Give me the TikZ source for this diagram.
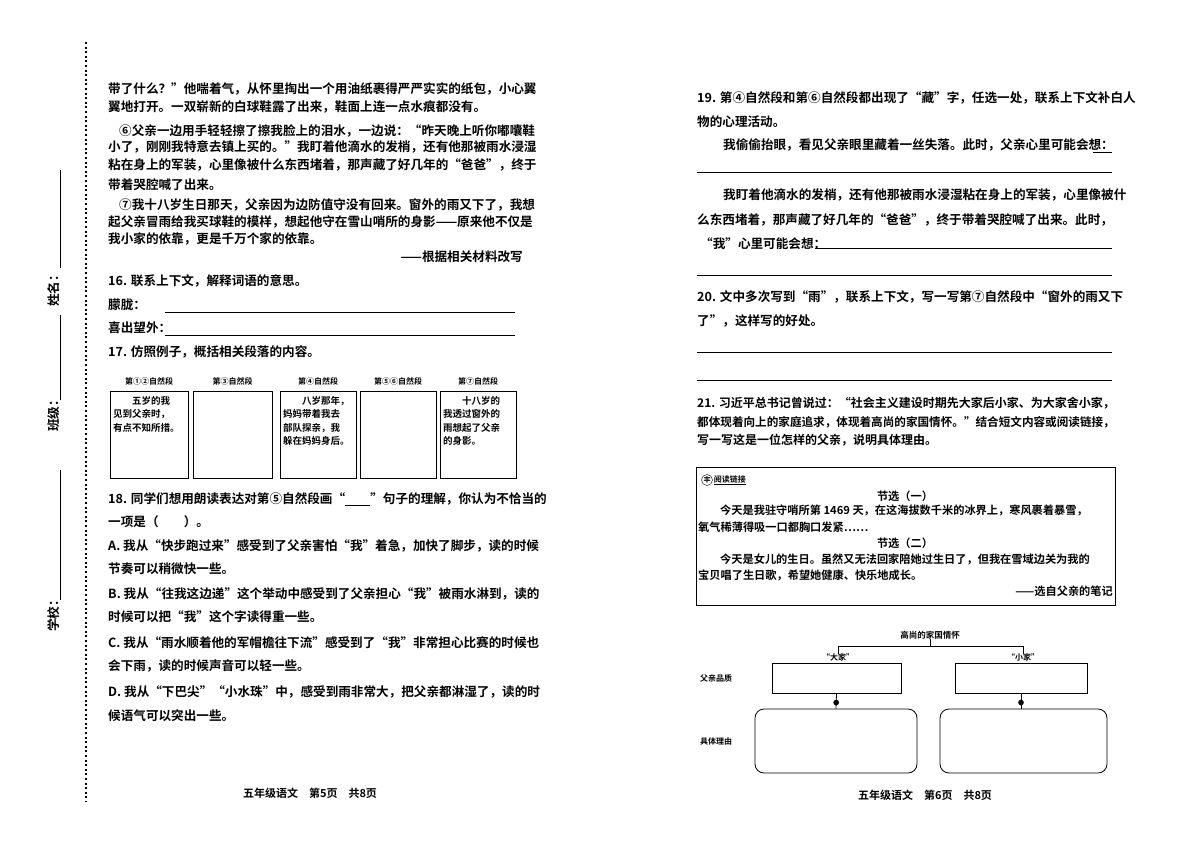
\documentclass[tikz,border=0pt]{standalone}
\usepackage{fontspec}
\usetikzlibrary{positioning,calc}
\newfontfamily\cjk{Noto Sans CJK SC}[BoldFont={Noto Sans CJK SC Bold}]
\tikzset{
  txt/.style={anchor=west,inner sep=0pt,font=\cjk\bfseries\fontsize{12.6}{15}\selectfont},
  small_txt/.style={anchor=west,inner sep=0pt,font=\cjk\bfseries\fontsize{8}{10}\selectfont},
  note_txt/.style={anchor=west,inner sep=0pt,font=\cjk\bfseries\fontsize{11.2}{13}\selectfont},
  box_txt/.style={anchor=north west,inner sep=0pt,align=left,font=\cjk\bfseries\fontsize{9.5}{13.5}\selectfont},
  ans_line/.style={thick},
}
\begin{document}
\begin{tikzpicture}[
  x=1pt, y=-1pt,
  para box/.style={draw,thick},
  frame/.style={draw,thick,rounded corners=9pt},
  ]
  \useasboundingbox[fill=white] (0,0) rectangle (1200,849);

  % binding margin
  \draw[line width=2.2pt,dash pattern=on 2pt off 2.6pt] (86,42) -- (86,802);
  \node[txt,rotate=90,anchor=west] (school) at (54,632) {学校：};
  \draw[ans_line] (60,600) -- (60,470);
  \node[txt,rotate=90,anchor=west] (class) at (54,432) {班级：};
  \draw[ans_line] (60,400) -- (60,315);
  \node[txt,rotate=90,anchor=west] (name) at (54,307) {姓名：};
  \draw[ans_line] (60,268) -- (60,170);

  % left page
  \node[txt] (l1) at (108,89) {带了什么？”他喘着气，从怀里掏出一个用油纸裹得严严实实的纸包，小心翼};
  \node[txt] (l2) at (108,107) {翼地打开。一双崭新的白球鞋露了出来，鞋面上连一点水痕都没有。};
  \node[txt] (l3) at (119,131) {⑥父亲一边用手轻轻擦了擦我脸上的泪水，一边说：“昨天晚上听你嘟囔鞋};
  \node[txt] (l4) at (108,147) {小了，刚刚我特意去镇上买的。”我盯着他滴水的发梢，还有他那被雨水浸湿};
  \node[txt] (l5) at (108,165) {粘在身上的军装，心里像被什么东西堵着，那声藏了好几年的“爸爸”，终于};
  \node[txt] (l6) at (108,185) {带着哭腔喊了出来。};
  \node[txt] (l7) at (119,205) {⑦我十八岁生日那天，父亲因为边防值守没有回来。窗外的雨又下了，我想};
  \node[txt] (l8) at (108,222) {起父亲冒雨给我买球鞋的模样，想起他守在雪山哨所的身影——原来他不仅是};
  \node[txt] (l9) at (108,239) {我小家的依靠，更是千万个家的依靠。};
  \node[txt,anchor=east] (src) at (523,257) {——根据相关材料改写};
  \node[txt] (q16) at (108,281) {16. 联系上下文，解释词语的意思。};
  \node[txt] (w1) at (108,305) {朦胧：};
  \draw[ans_line] (165,312) -- (515,312);
  \node[txt] (w2) at (108,328) {喜出望外：};
  \draw[ans_line] (165,335) -- (515,335);
  \node[txt] (q17) at (108,352) {17. 仿照例子，概括相关段落的内容。};

  \foreach \x/\w/\head/\body in {
      110/78/{第①②自然段}/{\hspace*{2em}五岁的我\\见到父亲时，\\有点不知所措。},
      193/79/{第③自然段}/{},
      280/76/{第④自然段}/{\hspace*{2em}八岁那年，\\妈妈带着我去\\部队探亲，我\\躲在妈妈身后。},
      360/76/{第⑤⑥自然段}/{},
      440/76/{第⑦自然段}/{\hspace*{2em}十八岁的\\我透过窗外的\\雨想起了父亲\\的身影。}} {
    \draw[para box] (\x,391) rectangle ++(\w,87);
    \node[small_txt,anchor=center] at (\x+\w/2,381) {\head};
    \node[box_txt] at (\x+3,396) {\body};
  }

  \node[txt] (q18a) at (108,499) {18. 同学们想用朗读表达对第⑤自然段画“\underline{\hspace{2em}}”句子的理解，你认为不恰当的};
  \node[txt] (q18b) at (108,522) {一项是（\hspace{2em}）。};
  \node[txt] (oa1) at (108,546) {A. 我从“快步跑过来”感受到了父亲害怕“我”着急，加快了脚步，读的时候};
  \node[txt] (oa2) at (108,569) {节奏可以稍微快一些。};
  \node[txt] (ob1) at (108,594) {B. 我从“往我这边递”这个举动中感受到了父亲担心“我”被雨水淋到，读的};
  \node[txt] (ob2) at (108,617) {时候可以把“我”这个字读得重一些。};
  \node[txt] (oc1) at (108,643) {C. 我从“雨水顺着他的军帽檐往下流”感受到了“我”非常担心比赛的时候也};
  \node[txt] (oc2) at (108,666) {会下雨，读的时候声音可以轻一些。};
  \node[txt] (od1) at (108,692) {D. 我从“下巴尖”“小水珠”中，感受到雨非常大，把父亲都淋湿了，读的时};
  \node[txt] (od2) at (108,716) {候语气可以突出一些。};
  \node[txt,anchor=center,font=\cjk\bfseries\fontsize{11}{13}\selectfont] (foot5) at (310,793) {五年级语文\quad 第5页\quad 共8页};

  % right page
  \node[txt] (q19a) at (697,98) {19. 第④自然段和第⑥自然段都出现了“藏”字，任选一处，联系上下文补白人};
  \node[txt] (q19b) at (697,122) {物的心理活动。};
  \node[txt] (r1) at (723,145) {我偷偷抬眼，看见父亲眼里藏着一丝失落。此时，父亲心里可能会想：};
  \draw[ans_line] (1093,152) -- (1112,152);
  \draw[ans_line] (697,172) -- (1112,172);
  \node[txt] (r2) at (723,195) {我盯着他滴水的发梢，还有他那被雨水浸湿粘在身上的军装，心里像被什};
  \node[txt] (r3) at (697,220) {么东西堵着，那声藏了好几年的“爸爸”，终于带着哭腔喊了出来。此时，};
  \node[txt] (r4) at (700,244) {“我”心里可能会想：};
  \draw[ans_line] (815,248) -- (1112,248);
  \draw[ans_line] (697,275) -- (1112,275);
  \node[txt] (q20a) at (697,297) {20. 文中多次写到“雨”，联系上下文，写一写第⑦自然段中“窗外的雨又下};
  \node[txt] (q20b) at (697,321) {了”，这样写的好处。};
  \draw[ans_line] (697,352) -- (1112,352);
  \draw[ans_line] (697,380) -- (1112,380);
  \node[txt,font=\cjk\bfseries\fontsize{12}{14}\selectfont] (q21a) at (697,403) {21. 习近平总书记曾说过：“社会主义建设时期先大家后小家、为大家舍小家，};
  \node[txt,font=\cjk\bfseries\fontsize{11.6}{14}\selectfont] (q21b) at (697,422) {都体现着向上的家庭追求，体现着高尚的家国情怀。”结合短文内容或阅读链接，};
  \node[txt,font=\cjk\bfseries\fontsize{12}{14}\selectfont] (q21c) at (697,440) {写一写这是一位怎样的父亲，说明具体理由。};

  \draw[thick] (696,467) rectangle (1115,605);
  \node[draw,circle,inner sep=0.5pt,font=\cjk\bfseries\fontsize{7}{8}\selectfont] (icon) at (707,480) {丰};
  \node[small_txt,right=1pt of icon] (link) {\underline{阅读链接}};
  \node[note_txt,anchor=center] (sel1) at (905,496) {节选（一）};
  \node[note_txt] (n1) at (720,510) {今天是我驻守哨所第 1469 天，在这海拔数千米的冰界上，寒风裹着暴雪，};
  \node[note_txt] (n2) at (698,527) {氧气稀薄得吸一口都胸口发紧……};
  \node[note_txt,anchor=center] (sel2) at (905,543) {节选（二）};
  \node[note_txt] (n3) at (720,559) {今天是女儿的生日。虽然又无法回家陪她过生日了，但我在雪域边关为我的};
  \node[note_txt] (n4) at (698,575) {宝贝唱了生日歌，希望她健康、快乐地成长。};
  \node[note_txt,anchor=east] (n5) at (1113,591) {——选自父亲的笔记};

  % family chart
  \node[small_txt,anchor=center,font=\cjk\bfseries\fontsize{8.5}{10}\selectfont] (title) at (930,635) {高尚的家国情怀};
  \coordinate (brl) at (838,646);
  \coordinate (brr) at (1023,646);
  \draw[thick] (title.south) -- (930,646);
  \draw[thick] ($(brl)+(0,8)$) -- (brl) -- (brr) -- ($(brr)+(0,8)$);
  \node[small_txt,anchor=center] (big) at (838,657) {“大家”};
  \node[small_txt,anchor=center] (little) at (1023,657) {“小家”};
  \node[small_txt] (qual) at (700,678) {父亲品质};
  \node[small_txt] (reason) at (700,741) {具体理由};
  \node[para box,minimum width=129pt,minimum height=30pt,inner sep=0pt] (bq) at (836.5,678) {};
  \node[para box,minimum width=132pt,minimum height=30pt,inner sep=0pt] (sq) at (1021,678) {};
  \node[frame,minimum width=162pt,minimum height=64pt,inner sep=0pt] (br) at (836,741) {};
  \node[frame,minimum width=167pt,minimum height=64pt,inner sep=0pt] (sr) at (1023.5,741) {};
  \draw[thick] (bq.south) -- (br.north) node[pos=0.6,circle,fill,inner sep=2pt] {};
  \draw[thick] (sq.south) -- (sq.south |- sr.north) node[pos=0.6,circle,fill,inner sep=2pt] {};
  \node[txt,anchor=center,font=\cjk\bfseries\fontsize{11}{13}\selectfont] (foot6) at (925,795) {五年级语文\quad 第6页\quad 共8页};
\end{tikzpicture}
\end{document}
